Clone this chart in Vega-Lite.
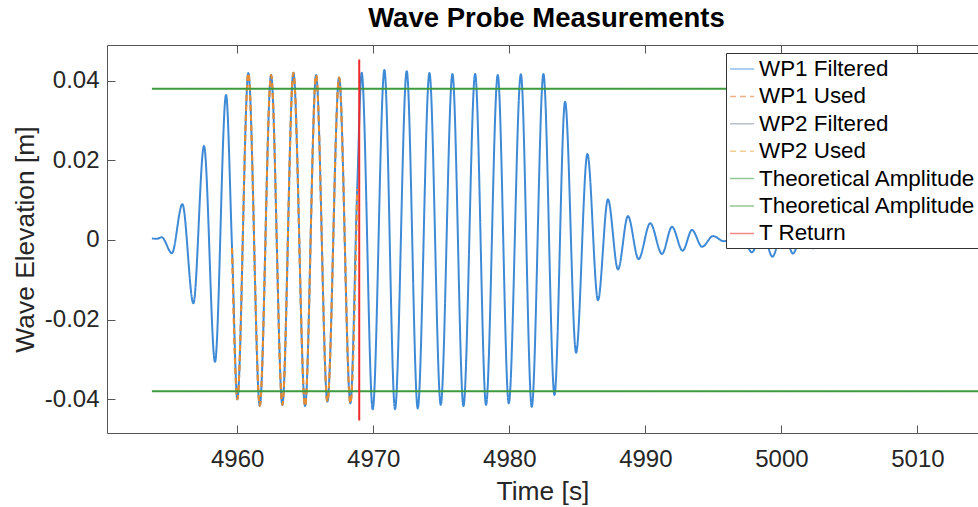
{
  "$schema": "https://vega.github.io/schema/vega-lite/v6.json",
  "width": 871,
  "height": 388,
  "autosize": {"type": "none"},
  "padding": {"left": 107, "top": 45, "right": 0, "bottom": 74},
  "background": "white",
  "title": {"text": "Wave Probe Measurements", "font": "Liberation Sans", "fontSize": 27.5, "fontWeight": "bold", "color": "#000000", "anchor": "middle", "frame": "group", "offset": 13, "baseline": "bottom", "dx": 4, "dy": 29},
  "config": {
    "view": {"stroke": null},
    "axis": {"labelFont": "Liberation Sans", "titleFont": "Liberation Sans", "labelColor": "#262626", "titleColor": "#262626", "domainColor": "#555555", "tickColor": "#555555", "grid": false, "labelFontSize": 24, "titleFontSize": 26.4, "titleFontWeight": "normal", "domainWidth": 1, "tickWidth": 1}
  },
  "datasets": {
    "wave": [
      {"t": 4953.73, "v": 0.0004, "s": "WP1 Filtered"},
      {"t": 4954.10, "v": 0.0003, "s": "WP1 Filtered"},
      {"t": 4954.45, "v": 0.0007, "s": "WP1 Filtered"},
      {"t": 4955.20, "v": -0.0033, "s": "WP1 Filtered"},
      {"t": 4955.97, "v": 0.0090, "s": "WP1 Filtered"},
      {"t": 4956.78, "v": -0.0159, "s": "WP1 Filtered"},
      {"t": 4957.56, "v": 0.0236, "s": "WP1 Filtered"},
      {"t": 4958.37, "v": -0.0306, "s": "WP1 Filtered"},
      {"t": 4959.18, "v": 0.0364, "s": "WP1 Filtered"},
      {"t": 4959.62, "v": -0.0020, "s": "WP1 Filtered"},
      {"t": 4960.01, "v": -0.0400, "s": "WP1 Filtered"},
      {"t": 4960.82, "v": 0.0419, "s": "WP1 Filtered"},
      {"t": 4961.66, "v": -0.0416, "s": "WP1 Filtered"},
      {"t": 4962.49, "v": 0.0414, "s": "WP1 Filtered"},
      {"t": 4963.32, "v": -0.0414, "s": "WP1 Filtered"},
      {"t": 4964.13, "v": 0.0420, "s": "WP1 Filtered"},
      {"t": 4964.99, "v": -0.0417, "s": "WP1 Filtered"},
      {"t": 4965.80, "v": 0.0414, "s": "WP1 Filtered"},
      {"t": 4966.63, "v": -0.0406, "s": "WP1 Filtered"},
      {"t": 4967.49, "v": 0.0408, "s": "WP1 Filtered"},
      {"t": 4968.32, "v": -0.0410, "s": "WP1 Filtered"},
      {"t": 4968.82, "v": 0.0128, "s": "WP1 Filtered"},
      {"t": 4969.15, "v": 0.0420, "s": "WP1 Filtered"},
      {"t": 4969.96, "v": -0.0425, "s": "WP1 Filtered"},
      {"t": 4970.82, "v": 0.0427, "s": "WP1 Filtered"},
      {"t": 4971.60, "v": -0.0425, "s": "WP1 Filtered"},
      {"t": 4972.46, "v": 0.0424, "s": "WP1 Filtered"},
      {"t": 4973.27, "v": -0.0423, "s": "WP1 Filtered"},
      {"t": 4974.13, "v": 0.0419, "s": "WP1 Filtered"},
      {"t": 4974.96, "v": -0.0414, "s": "WP1 Filtered"},
      {"t": 4975.82, "v": 0.0417, "s": "WP1 Filtered"},
      {"t": 4976.63, "v": -0.0417, "s": "WP1 Filtered"},
      {"t": 4977.49, "v": 0.0417, "s": "WP1 Filtered"},
      {"t": 4978.29, "v": -0.0414, "s": "WP1 Filtered"},
      {"t": 4979.15, "v": 0.0414, "s": "WP1 Filtered"},
      {"t": 4979.96, "v": -0.0410, "s": "WP1 Filtered"},
      {"t": 4980.85, "v": 0.0416, "s": "WP1 Filtered"},
      {"t": 4981.65, "v": -0.0419, "s": "WP1 Filtered"},
      {"t": 4982.51, "v": 0.0417, "s": "WP1 Filtered"},
      {"t": 4983.32, "v": -0.0389, "s": "WP1 Filtered"},
      {"t": 4984.10, "v": 0.0347, "s": "WP1 Filtered"},
      {"t": 4984.91, "v": -0.0283, "s": "WP1 Filtered"},
      {"t": 4985.74, "v": 0.0216, "s": "WP1 Filtered"},
      {"t": 4986.52, "v": -0.0151, "s": "WP1 Filtered"},
      {"t": 4987.25, "v": 0.0102, "s": "WP1 Filtered"},
      {"t": 4987.99, "v": -0.0074, "s": "WP1 Filtered"},
      {"t": 4988.72, "v": 0.0060, "s": "WP1 Filtered"},
      {"t": 4989.50, "v": -0.0048, "s": "WP1 Filtered"},
      {"t": 4990.36, "v": 0.0042, "s": "WP1 Filtered"},
      {"t": 4991.22, "v": -0.0035, "s": "WP1 Filtered"},
      {"t": 4991.96, "v": 0.0033, "s": "WP1 Filtered"},
      {"t": 4992.74, "v": -0.0027, "s": "WP1 Filtered"},
      {"t": 4993.43, "v": 0.0025, "s": "WP1 Filtered"},
      {"t": 4994.17, "v": -0.0017, "s": "WP1 Filtered"},
      {"t": 4994.98, "v": 0.0010, "s": "WP1 Filtered"},
      {"t": 4995.76, "v": -0.0003, "s": "WP1 Filtered"},
      {"t": 4997.06, "v": 0.0015, "s": "WP1 Filtered"},
      {"t": 4997.83, "v": -0.0031, "s": "WP1 Filtered"},
      {"t": 4998.60, "v": 0.0025, "s": "WP1 Filtered"},
      {"t": 4999.34, "v": -0.0042, "s": "WP1 Filtered"},
      {"t": 5000.11, "v": 0.0030, "s": "WP1 Filtered"},
      {"t": 5000.85, "v": -0.0034, "s": "WP1 Filtered"},
      {"t": 5001.58, "v": 0.0025, "s": "WP1 Filtered"},
      {"t": 5002.32, "v": -0.0021, "s": "WP1 Filtered"},
      {"t": 5002.88, "v": 0.0010, "s": "WP1 Filtered"}
    ],
    "used1": [
      {"t": 4959.62, "v": -0.0020, "s": "WP1 Used"},
      {"t": 4960.01, "v": -0.0400, "s": "WP1 Used"},
      {"t": 4960.82, "v": 0.0419, "s": "WP1 Used"},
      {"t": 4961.66, "v": -0.0416, "s": "WP1 Used"},
      {"t": 4962.49, "v": 0.0414, "s": "WP1 Used"},
      {"t": 4963.32, "v": -0.0414, "s": "WP1 Used"},
      {"t": 4964.13, "v": 0.0420, "s": "WP1 Used"},
      {"t": 4964.99, "v": -0.0417, "s": "WP1 Used"},
      {"t": 4965.80, "v": 0.0414, "s": "WP1 Used"},
      {"t": 4966.63, "v": -0.0406, "s": "WP1 Used"},
      {"t": 4967.49, "v": 0.0408, "s": "WP1 Used"},
      {"t": 4968.32, "v": -0.0410, "s": "WP1 Used"},
      {"t": 4968.82, "v": 0.0128, "s": "WP1 Used"}
    ],
    "used2": [
      {"t": 4959.62, "v": -0.0020, "s": "WP2 Used"},
      {"t": 4960.01, "v": -0.0400, "s": "WP2 Used"},
      {"t": 4960.82, "v": 0.0419, "s": "WP2 Used"},
      {"t": 4961.66, "v": -0.0416, "s": "WP2 Used"},
      {"t": 4962.49, "v": 0.0414, "s": "WP2 Used"},
      {"t": 4963.32, "v": -0.0414, "s": "WP2 Used"},
      {"t": 4964.13, "v": 0.0420, "s": "WP2 Used"},
      {"t": 4964.99, "v": -0.0417, "s": "WP2 Used"},
      {"t": 4965.80, "v": 0.0414, "s": "WP2 Used"},
      {"t": 4966.63, "v": -0.0406, "s": "WP2 Used"},
      {"t": 4967.49, "v": 0.0408, "s": "WP2 Used"},
      {"t": 4968.32, "v": -0.0410, "s": "WP2 Used"},
      {"t": 4968.82, "v": 0.0128, "s": "WP2 Used"}
    ],
    "theory": [
      {"t": 4953.73, "t2": 5020, "v": 0.038, "s": "Theoretical Amplitude 1"},
      {"t": 4953.73, "t2": 5020, "v": -0.038, "s": "Theoretical Amplitude 2"}
    ],
    "tret": [
      {"t": 4968.97, "v": -0.0453, "v2": 0.0453, "s": "T Return"}
    ]
  },
  "encoding": {
    "color": {
      "field": "s", "type": "nominal",
      "scale": {
        "domain": ["WP1 Filtered", "WP1 Used", "WP2 Filtered", "WP2 Used", "Theoretical Amplitude 1", "Theoretical Amplitude 2", "T Return"],
        "range": ["#3e8ad6", "#e0702a", "#7d8ea3", "#eaa53a", "#3d9a3d", "#3d9a3d", "#ee2a2a"]
      },
      "legend": {
        "title": null, "orient": "none", "legendX": 619, "legendY": 8,
        "direction": "vertical", "padding": 3, "strokeColor": "#333333", "fillColor": "white",
        "symbolType": "stroke", "symbolSize": 576, "symbolStrokeWidth": 1.5,
        "labelFont": "Liberation Sans", "labelFontSize": 22.4, "labelColor": "#000000", "labelOffset": 4,
        "labelLimit": 0, "rowPadding": 2.4,
        "labelExpr": "datum.label === 'Theoretical Amplitude 1' || datum.label === 'Theoretical Amplitude 2' ? 'Theoretical Amplitude' : datum.label"
      }
    },
    "strokeDash": {
      "field": "s", "type": "nominal",
      "scale": {
        "domain": ["WP1 Filtered", "WP1 Used", "WP2 Filtered", "WP2 Used", "Theoretical Amplitude 1", "Theoretical Amplitude 2", "T Return"],
        "range": [[1, 0], [6, 4], [1, 0], [6, 4], [1, 0], [1, 0], [1, 0]]
      },
      "legend": {
        "title": null, "orient": "none", "legendX": 619, "legendY": 8,
        "direction": "vertical", "padding": 3, "strokeColor": "#333333", "fillColor": "white",
        "symbolType": "stroke", "symbolSize": 576, "symbolStrokeWidth": 1.5,
        "labelFont": "Liberation Sans", "labelFontSize": 22.4, "labelColor": "#000000", "labelOffset": 4,
        "labelLimit": 0, "rowPadding": 2.4,
        "labelExpr": "datum.label === 'Theoretical Amplitude 1' || datum.label === 'Theoretical Amplitude 2' ? 'Theoretical Amplitude' : datum.label"
      }
    }
  },
  "resolve": {"axis": {"x": "independent"}},
  "layer": [
    {
      "data": {"name": "wave"},
      "mark": {"type": "line", "interpolate": "monotone", "strokeWidth": 2, "clip": true},
      "encoding": {
        "x": {"field": "t", "type": "quantitative", "scale": {"domain": [4950.43, 5014.45], "nice": false, "zero": false},
          "axis": {"orient": "bottom", "values": [4960, 4970, 4980, 4990, 5000, 5010], "format": "d", "tickSize": -8, "labelPadding": 22, "title": "Time [s]", "titleBaseline": "alphabetic", "titleY": 66, "titleX": 435.5, "titleAlign": "center"}},
        "y": {"field": "v", "type": "quantitative", "scale": {"domain": [-0.04846, 0.04896], "nice": false, "zero": false},
          "axis": {"orient": "left", "values": [-0.04, -0.02, 0, 0.02, 0.04], "labelExpr": "datum.value === 0 ? '0' : replace(format(datum.value, '.2f'), '\u2212', '-')", "tickSize": -8, "labelPadding": 16, "title": "Wave Elevation [m]", "titleBaseline": "alphabetic", "titleX": -74, "titleY": 194, "titleAlign": "center", "titleAngle": 270}}
      }
    },
    {
      "data": {"name": "used1"},
      "mark": {"type": "line", "interpolate": "monotone", "strokeWidth": 2, "clip": true},
      "encoding": {
        "x": {"field": "t", "type": "quantitative", "scale": {"domain": [4950.43, 5014.45], "nice": false, "zero": false}, "axis": null},
        "y": {"field": "v", "type": "quantitative"}
      }
    },
    {
      "data": {"name": "used2"},
      "mark": {"type": "line", "interpolate": "monotone", "strokeWidth": 2, "opacity": 0.55, "clip": true},
      "encoding": {
        "x": {"field": "t", "type": "quantitative", "scale": {"domain": [4950.43, 5014.45], "nice": false, "zero": false}, "axis": null},
        "y": {"field": "v", "type": "quantitative"}
      }
    },
    {
      "data": {"name": "theory"},
      "mark": {"type": "rule", "strokeWidth": 2, "clip": true},
      "encoding": {
        "x": {"field": "t", "type": "quantitative", "scale": {"domain": [4950.43, 5014.45], "nice": false, "zero": false},
          "axis": {"orient": "top", "values": [4960, 4970, 4980, 4990, 5000, 5010], "labels": false, "tickSize": -8, "title": null}},
        "x2": {"field": "t2"},
        "y": {"field": "v", "type": "quantitative"}
      }
    },
    {
      "data": {"name": "tret"},
      "mark": {"type": "rule", "strokeWidth": 2, "clip": true},
      "encoding": {
        "x": {"field": "t", "type": "quantitative", "scale": {"domain": [4950.43, 5014.45], "nice": false, "zero": false}, "axis": null},
        "y": {"field": "v", "type": "quantitative"},
        "y2": {"field": "v2"}
      }
    }
  ]
}
